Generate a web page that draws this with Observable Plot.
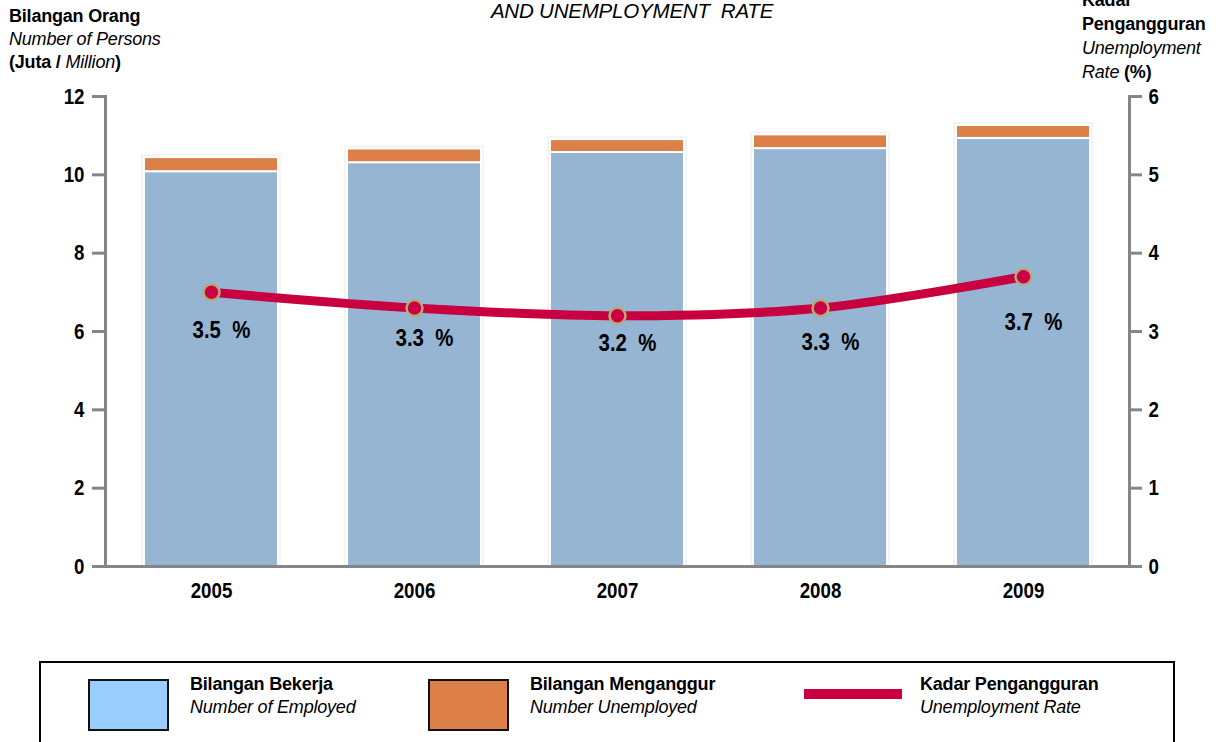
<!DOCTYPE html>
<html>
<head>
<meta charset="utf-8">
<script src="https://cdn.jsdelivr.net/npm/d3@7"></script>
<script src="https://cdn.jsdelivr.net/npm/@observablehq/plot@0.6"></script>
<style>
  html, body { margin: 0; padding: 0; background: #fff; }
  #wrap { position: relative; width: 1216px; height: 742px; overflow: hidden;
    font-family: "Liberation Sans", Arial, sans-serif; color: #000; }
  .t { position: absolute; white-space: pre; font-size: 18px; line-height: 23px; letter-spacing: -0.2px; }
  .b { font-weight: bold; }
  .i { font-style: italic; }
  #chart { position: absolute; left: 0; top: 0; }
  #legend { position: absolute; left: 39px; top: 661px; width: 1136px; height: 120px; border: 2px solid #000; box-sizing: border-box; }
  .sw { position: absolute; box-sizing: border-box; border: 2px solid #111; }
</style>
</head>
<body>
<div id="wrap">
  <div id="chart"></div>
  <div class="t i" style="left:0;width:1264px;text-align:center;top:-1px;font-size:20.5px;line-height:24px;">AND UNEMPLOYMENT  RATE</div>
  <div class="t" style="left:9px;top:5px;"><span class="b">Bilangan Orang</span><br><span class="i">Number of Persons</span><br><span class="b">(Juta / </span><span class="i">Million</span><span class="b">)</span></div>
  <div class="t" style="left:1082px;top:-12px;line-height:24px;"><span class="b">Kadar</span><br><span class="b">Pengangguran</span><br><span class="i">Unemployment</span><br><span class="i">Rate</span><span class="b"> (%)</span></div>
  <div id="legend">
    <div class="sw" style="left:47px;top:16px;width:81px;height:52px;background:#99ccff;"></div>
    <div class="t" style="left:149px;top:10px;"><span class="b">Bilangan Bekerja</span><br><span class="i">Number of Employed</span></div>
    <div class="sw" style="left:387px;top:16px;width:81px;height:52px;background:#dd7f48;"></div>
    <div class="t" style="left:489px;top:10px;"><span class="b">Bilangan Menganggur</span><br><span class="i">Number Unemployed</span></div>
    <div style="position:absolute;left:763px;top:26px;width:98px;height:10px;background:#c8003f;"></div>
    <div class="t" style="left:879px;top:10px;"><span class="b">Kadar Pengangguran</span><br><span class="i">Unemployment Rate</span></div>
  </div>
</div>
<script>
const years = ["2005", "2006", "2007", "2008", "2009"];
const employed = [10.08, 10.31, 10.57, 10.67, 10.93];   // juta / million
const unemployed = [0.36, 0.35, 0.33, 0.35, 0.33];      // juta / million
const rates = [3.5, 3.3, 3.2, 3.3, 3.7];                // %
const leftTicks = [0, 2, 4, 6, 8, 10, 12];
const rightTicks = [0, 1, 2, 3, 4, 5, 6];
// vertical offsets (px) of the percentage labels below each point, as placed in the original
const labelDy = [46, 38, 35, 42, 53];

const stack = [];
years.forEach((y, i) => {
  stack.push({year: y, series: "Bilangan Bekerja", value: employed[i]});
  stack.push({year: y, series: "Bilangan Menganggur", value: unemployed[i]});
});
const totals = years.map((y, i) => ({year: y, total: employed[i] + unemployed[i]}));
const rateData = years.map((y, i) => ({year: y, rate: rates[i]}));

const grey = "#868686";
const font = '"Liberation Sans", Arial, sans-serif';

const chart = Plot.plot({
  width: 1216,
  height: 620,
  marginTop: 96,
  marginBottom: 54,
  marginLeft: 105,
  marginRight: 87,
  style: {fontFamily: font, background: "transparent"},
  x: {domain: years, paddingInner: 0.34, paddingOuter: 0.18, label: null},
  y: {domain: [0, 12], label: null},
  color: {domain: ["Bilangan Bekerja", "Bilangan Menganggur"], range: ["#95b5d2", "#dd8048"]},
  marks: [
    Plot.barY(totals, {x: "year", y: "total", fill: "#f4f4f4", insetLeft: -3, insetRight: -3, insetTop: -3}),
    Plot.barY(stack, {x: "year", y: "value", fill: "series", stroke: "white", strokeWidth: 2, order: null}),
    Plot.frame({anchor: "left", stroke: grey, strokeWidth: 3}),
    Plot.frame({anchor: "right", stroke: grey, strokeWidth: 3}),
    Plot.ruleY([0], {stroke: grey, strokeWidth: 3, insetLeft: -13, insetRight: -12}),
    Plot.axisY({anchor: "left", ticks: leftTicks, tickSize: 13, tickPadding: 8, stroke: grey, strokeWidth: 3,
      fill: "black", fontSize: 22, fontWeight: "bold", label: null}),
    Plot.axisY({anchor: "right", ticks: rightTicks.map(d => d * 2), tickFormat: d => d / 2, tickSize: 12, tickPadding: 7,
      stroke: grey, strokeWidth: 3, fill: "black", fontSize: 22, fontWeight: "bold", label: null}),
    Plot.axisX({tickSize: 0, tickPadding: 16, fontSize: 22, fontWeight: "bold", fill: "black", label: null}),
    Plot.line(rateData, {x: "year", y: d => d.rate * 2, stroke: "#c8003f", strokeWidth: 9, curve: "catmull-rom"}),
    Plot.dot(rateData, {x: "year", y: d => d.rate * 2, r: 8, fill: "#cc0044", stroke: "#b5ab78", strokeWidth: 2.5}),
    Plot.text(rateData, {x: "year", y: d => d.rate * 2, text: d => d.rate.toFixed(1) + "\u00a0 %",
      dy: 0, dx: 10, fontSize: 24, fontWeight: "bold", fill: "black"})
  ]
});
// condense the SVG lettering horizontally (the original uses a narrow face)
chart.querySelectorAll("text").forEach(t => {
  const tr = t.getAttribute("transform");
  if (tr && tr.includes("translate")) t.setAttribute("transform", tr + " scale(0.85,1)");
});
// shift each percentage label below its point
const labelTexts = chart.querySelectorAll('g[aria-label="text"] text');
labelTexts.forEach((t, i) => t.setAttribute("y", labelDy[i]));
document.getElementById("chart").appendChild(chart);
</script>
</body>
</html>
